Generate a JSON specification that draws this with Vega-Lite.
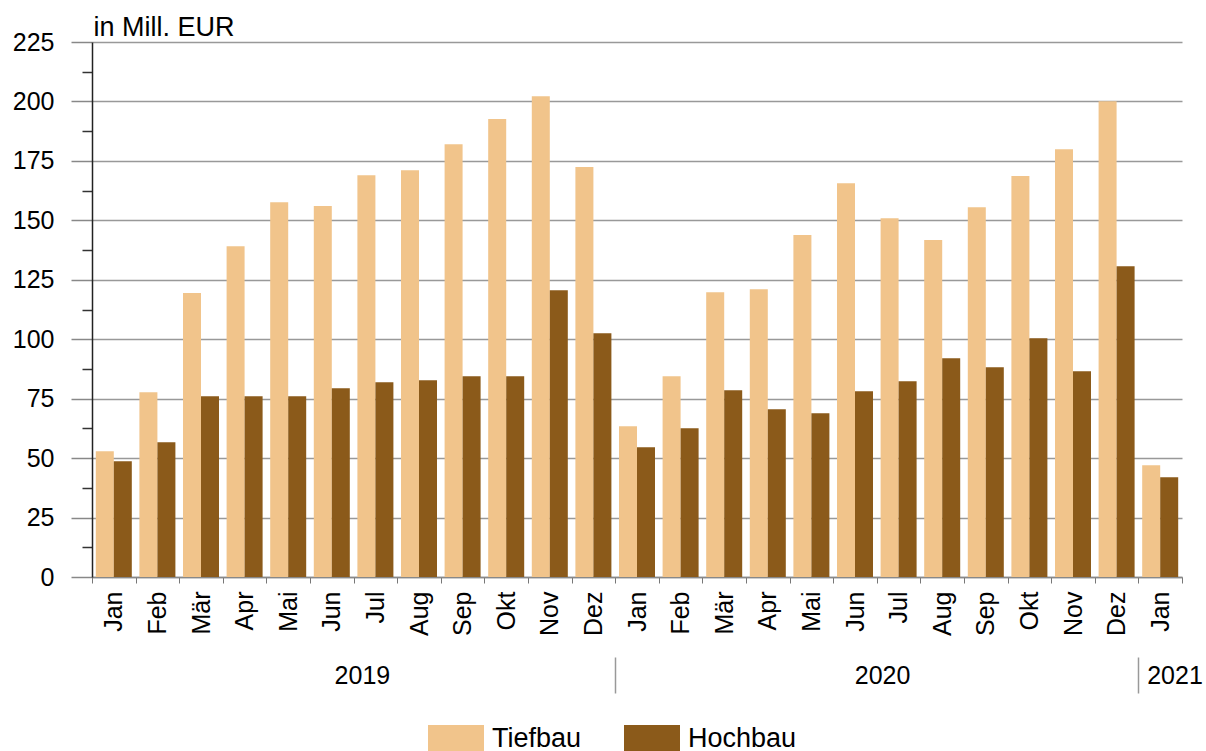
{
  "$schema": "https://vega.github.io/schema/vega-lite/v6.json",
  "width": 1090,
  "height": 535,
  "autosize": {"type": "none"},
  "padding": {"left": 92, "top": 42, "right": 24, "bottom": 174},
  "config": {
    "font": "Liberation Sans",
    "view": {"stroke": null},
    "axis": {"labelFont": "Liberation Sans", "titleFont": "Liberation Sans", "labelColor": "#000", "titleColor": "#000"}
  },
  "data": {
    "values": [
      {"m": "2019-01", "typ": "Tiefbau", "v": 52.9}, {"m": "2019-01", "typ": "Hochbau", "v": 48.7},
      {"m": "2019-02", "typ": "Tiefbau", "v": 77.7}, {"m": "2019-02", "typ": "Hochbau", "v": 56.7},
      {"m": "2019-03", "typ": "Tiefbau", "v": 119.4}, {"m": "2019-03", "typ": "Hochbau", "v": 76.0},
      {"m": "2019-04", "typ": "Tiefbau", "v": 139.1}, {"m": "2019-04", "typ": "Hochbau", "v": 76.0},
      {"m": "2019-05", "typ": "Tiefbau", "v": 157.6}, {"m": "2019-05", "typ": "Hochbau", "v": 76.0},
      {"m": "2019-06", "typ": "Tiefbau", "v": 156.0}, {"m": "2019-06", "typ": "Hochbau", "v": 79.4},
      {"m": "2019-07", "typ": "Tiefbau", "v": 169.0}, {"m": "2019-07", "typ": "Hochbau", "v": 81.9},
      {"m": "2019-08", "typ": "Tiefbau", "v": 171.1}, {"m": "2019-08", "typ": "Hochbau", "v": 82.7},
      {"m": "2019-09", "typ": "Tiefbau", "v": 182.0}, {"m": "2019-09", "typ": "Hochbau", "v": 84.4},
      {"m": "2019-10", "typ": "Tiefbau", "v": 192.6}, {"m": "2019-10", "typ": "Hochbau", "v": 84.4},
      {"m": "2019-11", "typ": "Tiefbau", "v": 202.2}, {"m": "2019-11", "typ": "Hochbau", "v": 120.6},
      {"m": "2019-12", "typ": "Tiefbau", "v": 172.4}, {"m": "2019-12", "typ": "Hochbau", "v": 102.5},
      {"m": "2020-01", "typ": "Tiefbau", "v": 63.4}, {"m": "2020-01", "typ": "Hochbau", "v": 54.6},
      {"m": "2020-02", "typ": "Tiefbau", "v": 84.4}, {"m": "2020-02", "typ": "Hochbau", "v": 62.6},
      {"m": "2020-03", "typ": "Tiefbau", "v": 119.8}, {"m": "2020-03", "typ": "Hochbau", "v": 78.5},
      {"m": "2020-04", "typ": "Tiefbau", "v": 121.0}, {"m": "2020-04", "typ": "Hochbau", "v": 70.5},
      {"m": "2020-05", "typ": "Tiefbau", "v": 143.8}, {"m": "2020-05", "typ": "Hochbau", "v": 68.9},
      {"m": "2020-06", "typ": "Tiefbau", "v": 165.6}, {"m": "2020-06", "typ": "Hochbau", "v": 78.1},
      {"m": "2020-07", "typ": "Tiefbau", "v": 150.9}, {"m": "2020-07", "typ": "Hochbau", "v": 82.3},
      {"m": "2020-08", "typ": "Tiefbau", "v": 141.7}, {"m": "2020-08", "typ": "Hochbau", "v": 92.0},
      {"m": "2020-09", "typ": "Tiefbau", "v": 155.5}, {"m": "2020-09", "typ": "Hochbau", "v": 88.2},
      {"m": "2020-10", "typ": "Tiefbau", "v": 168.6}, {"m": "2020-10", "typ": "Hochbau", "v": 100.4},
      {"m": "2020-11", "typ": "Tiefbau", "v": 179.9}, {"m": "2020-11", "typ": "Hochbau", "v": 86.5},
      {"m": "2020-12", "typ": "Tiefbau", "v": 200.1}, {"m": "2020-12", "typ": "Hochbau", "v": 130.7},
      {"m": "2021-01", "typ": "Tiefbau", "v": 47.0}, {"m": "2021-01", "typ": "Hochbau", "v": 41.9}
    ]
  },
  "layer": [
    {
      "mark": {"type": "bar"},
      "encoding": {
        "x": {
          "field": "m", "type": "ordinal",
          "scale": {"paddingInner": 0, "paddingOuter": 0},
          "axis": {
            "title": null,
            "labelExpr": "['Jan','Feb','Mär','Apr','Mai','Jun','Jul','Aug','Sep','Okt','Nov','Dez'][toNumber(substring(datum.value,5,7))-1]",
            "labelAngle": -90,
            "labelAlign": "right",
            "labelBaseline": "middle",
            "labelFontSize": 25,
            "labelPadding": 8,
            "labelOverlap": false,
            "tickBand": "extent",
            "tickSize": 6,
            "tickColor": "#777",
            "domainColor": "#888",
            "domainWidth": 1.5
          }
        },
        "xOffset": {"field": "typ", "type": "nominal", "sort": ["Tiefbau", "Hochbau"], "scale": {"paddingInner": 0, "paddingOuter": 0.211}},
        "y": {
          "field": "v", "type": "quantitative",
          "scale": {"domain": [0, 225], "nice": false},
          "axis": {
            "values": [0, 12.5, 25, 37.5, 50, 62.5, 75, 87.5, 100, 112.5, 125, 137.5, 150, 162.5, 175, 187.5, 200, 212.5, 225],
            "labelExpr": "datum.value % 25 === 0 ? datum.label : ''",
            "labelFontSize": 25,
            "labelPadding": 17,
            "tickSize": {"condition": {"test": "datum.value % 25 === 0", "value": 21}, "value": 10},
            "tickColor": {"condition": {"test": "datum.value % 25 === 0", "value": "#888"}, "value": "#333"},
            "tickWidth": 1.5,
            "grid": true,
            "gridColor": {"condition": {"test": "datum.value % 25 === 0", "value": "#999"}, "value": "transparent"},
            "gridWidth": 1.5,
            "domainColor": "#222",
            "domainWidth": 1.5,
            "title": "in Mill. EUR",
            "titleAngle": 0,
            "titleAlign": "left",
            "titleBaseline": "alphabetic",
            "titleX": 1,
            "titleY": -7,
            "titleFontSize": 27,
            "titleFontWeight": "normal"
          }
        },
        "color": {
          "field": "typ", "type": "nominal",
          "scale": {"domain": ["Tiefbau", "Hochbau"], "range": ["#F1C48B", "#8B5A1A"]},
          "legend": {
            "title": null,
            "orient": "none",
            "direction": "horizontal",
            "legendX": 336,
            "legendY": 669,
            "symbolType": "M-1,-0.5H1V0.5H-1Z",
            "symbolSize": 3136,
            "symbolStrokeWidth": 0,
            "symbolOpacity": 1,
            "labelFontSize": 27,
            "labelFont": "Liberation Sans",
            "labelColor": "#000",
            "labelOffset": 8,
            "columnPadding": 42
          }
        }
      }
    },
    {
      "mark": {"type": "bar", "opacity": 0},
      "encoding": {
        "x": {
          "field": "m", "type": "ordinal",
          "axis": {
            "title": null,
            "orient": "bottom",
            "offset": 80,
            "domain": false,
            "grid": false,
            "bandPosition": 0,
            "values": ["2019-07", "2020-01", "2020-07", "2021-01"],
            "labelExpr": "datum.value === '2019-07' ? '2019' : datum.value === '2020-07' ? '2020' : datum.value === '2021-01' ? '2021' : ''",
            "labelAngle": 0,
            "labelFontSize": 25,
            "labelBaseline": "middle",
            "labelPadding": -18,
            "labelOverlap": false,
            "labelAlign": {"condition": {"test": "datum.value === '2021-01'", "value": "left"}, "value": "center"},
            "labelOffset": {"condition": {"test": "datum.value === '2020-07'", "value": -16}, "value": -13},
            "tickSize": 36,
            "tickWidth": 1.5,
            "tickColor": "#999",
            "tickOpacity": {"condition": {"test": "datum.value === '2020-01' || datum.value === '2021-01'", "value": 1}, "value": 0}
          }
        }
      }
    }
  ],
  "resolve": {"axis": {"x": "independent"}}
}
